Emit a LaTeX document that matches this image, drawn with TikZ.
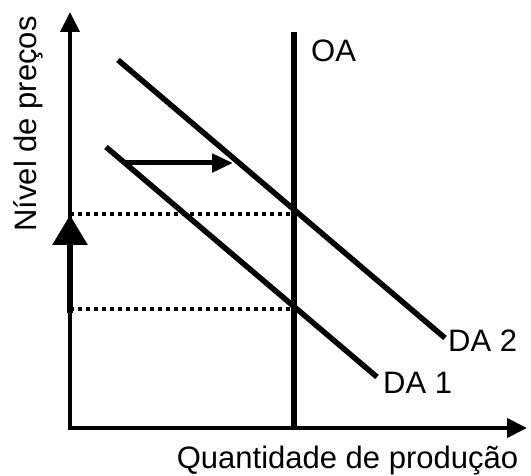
\documentclass[tikz,border=0pt]{standalone}
\usepackage{fontspec}
\setmainfont{Liberation Sans}
\usetikzlibrary{arrows.meta}
\begin{document}
\begin{tikzpicture}[x=1pt,y=-1pt,
  lbl/.style={inner sep=0pt,font=\fontsize{31}{37}\selectfont},
  axistip/.style={Triangle[length=20pt,width=19pt]},
  axisline/.style={line width=4pt,{Triangle[length=20pt,width=19pt]}-{Triangle[length=20pt,width=19pt]}},
  curveline/.style={line width=5.5pt},
  guide/.style={line width=3.5pt,dash pattern=on 4pt off 4pt},
  shiftarrow/.style={line width=5pt,-{Triangle[length=21pt,width=18pt]}},
  risearrow/.style={line width=6pt,-{Triangle[length=30pt,width=34pt]}}]
\useasboundingbox (0,0) rectangle (531,476);
% coordinates
\coordinate (O) at (70,428);
\coordinate (Ytip) at (70,12);
\coordinate (Xtip) at (527,428);
\coordinate (OAtop) at (294,32);
\coordinate (OAbot) at (294,428);
\coordinate (DAtwoA) at (118,60);
\coordinate (DAtwoB) at (445,338);
\coordinate (DAoneA) at (106,147);
\coordinate (DAoneB) at (377,377);
\coordinate (PtwoL) at (70,214);
\coordinate (PtwoR) at (294,214);
\coordinate (PoneL) at (70,309);
\coordinate (PoneR) at (294,309);
\coordinate (RiseA) at (70,313);
\coordinate (RiseB) at (70,215);
\coordinate (ShiftA) at (126,163);
\coordinate (ShiftB) at (233,163);
% guides
\draw[guide] (PtwoL) -- (PtwoR);
\draw[guide] (PoneL) -- (PoneR);
% axes
\draw[axisline] (Ytip) -- (O) -- (Xtip);
% supply
\draw[line width=6pt] (OAtop) -- (OAbot);
% demand
\draw[curveline] (DAtwoA) -- (DAtwoB);
\draw[curveline] (DAoneA) -- (DAoneB);
% arrows
\draw[risearrow] (RiseA) -- (RiseB);
\draw[shiftarrow] (ShiftA) -- (ShiftB);
% labels
\node[lbl,anchor=base west] (oa) at (311,62) {OA};
\node[lbl,anchor=base west] (da2) at (448,352) {DA 2};
\node[lbl,anchor=base west] (da1) at (383,393) {DA 1};
\node[lbl,anchor=base] (xlab) at (347.5,468) {Quantidade de produção};
\node[lbl,anchor=base,rotate=90] (ylab) at (37,124) {Nível de preços};
\end{tikzpicture}
\end{document}
